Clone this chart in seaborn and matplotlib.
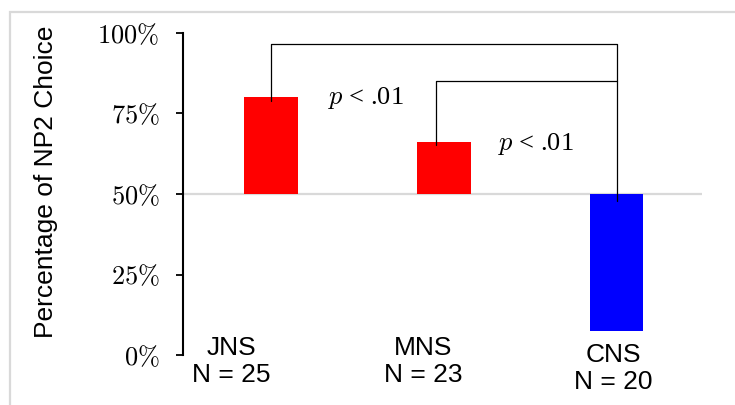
import matplotlib
matplotlib.use("Agg")
import matplotlib.pyplot as plt
from matplotlib.patches import Rectangle
import seaborn as sns

sns.set_style("white")
plt.rcParams['mathtext.fontset'] = 'cm'
plt.rcParams['text.color'] = 'black'
plt.rcParams['axes.labelcolor'] = 'black'
plt.rcParams['ytick.color'] = 'black'

# data
groups = ['JNS', 'MNS', 'CNS']
n_sizes = [25, 23, 20]
pct_np2 = [80.0, 66.0, 7.5]
bar_colors = ['#FF0000', '#FF0000', '#0000FF']
y_ticks = [0, 25, 50, 75, 100]
y_ticklabels = [r'$0\%$', r'$25\%$', r'$50\%$', r'$75\%$', r'$100\%$']
p_labels = [r'$p$ < .01', r'$p$ < .01']

BASE = 50

fig = plt.figure(figsize=(7.35, 4.05), dpi=100)
ax = fig.add_axes([183 / 735, 50 / 405, 519 / 735, 322 / 405])

# bars grow from the 50% line
heights = [v - BASE for v in pct_np2]
sns.barplot(x=groups, y=heights, hue=groups, palette=bar_colors,
            saturation=1, legend=False, width=0.31, bottom=BASE, ax=ax,
            edgecolor='none', linewidth=0, zorder=2)

ax.axhline(BASE, color='#d9d9d9', lw=1.6, zorder=1)

# significance brackets
ax.plot([0, 0, 2, 2], [78.8, 96.5, 96.5, 47.8], color='black', lw=0.9, zorder=3)
ax.plot([0.955, 0.955, 2], [65.2, 85.1, 85.1], color='black', lw=0.9, zorder=3)
ax.text(0.33, 79.7, p_labels[0], fontsize=19, family='Liberation Serif',
        va='center', ha='left')
ax.text(1.314, 65.5, p_labels[1], fontsize=19, family='Liberation Serif',
        va='center', ha='left')

# group labels under the axis
lab_x = [-0.23, 0.88, 1.98]
lab_y = [-1.9, -1.9, -4.3]
for i in range(len(groups)):
    ax.text(lab_x[i], lab_y[i], '{0}\nN = {1}'.format(groups[i], n_sizes[i]),
            fontsize=19, family='Liberation Sans', ha='center', va='center',
            linespacing=1.15, clip_on=False)

ax.set(xlim=(-0.51, 2.495), ylim=(0, 100))
ax.set_yticks(y_ticks)
ax.set_yticklabels(y_ticklabels, fontsize=19)
ax.set_xticks([])
ax.set_xlabel('')
ax.set_ylabel('Percentage of NP2 Choice', fontsize=19, family='Liberation Sans')
ax.yaxis.set_label_coords(-0.24, 0.537)
ax.tick_params(axis='y', direction='out', length=5, width=1.3, pad=12, left=True)
sns.despine(ax=ax, bottom=True)
ax.spines['left'].set_linewidth(1.5)
ax.spines['left'].set_color('black')

# light frame around the picture
fig.add_artist(Rectangle((10 / 735, -0.2), 2, 0.2 + 393 / 405,
                         transform=fig.transFigure, fill=False,
                         edgecolor='#d9d9d9', lw=1.6))

fig.savefig('out.png', dpi=100)
